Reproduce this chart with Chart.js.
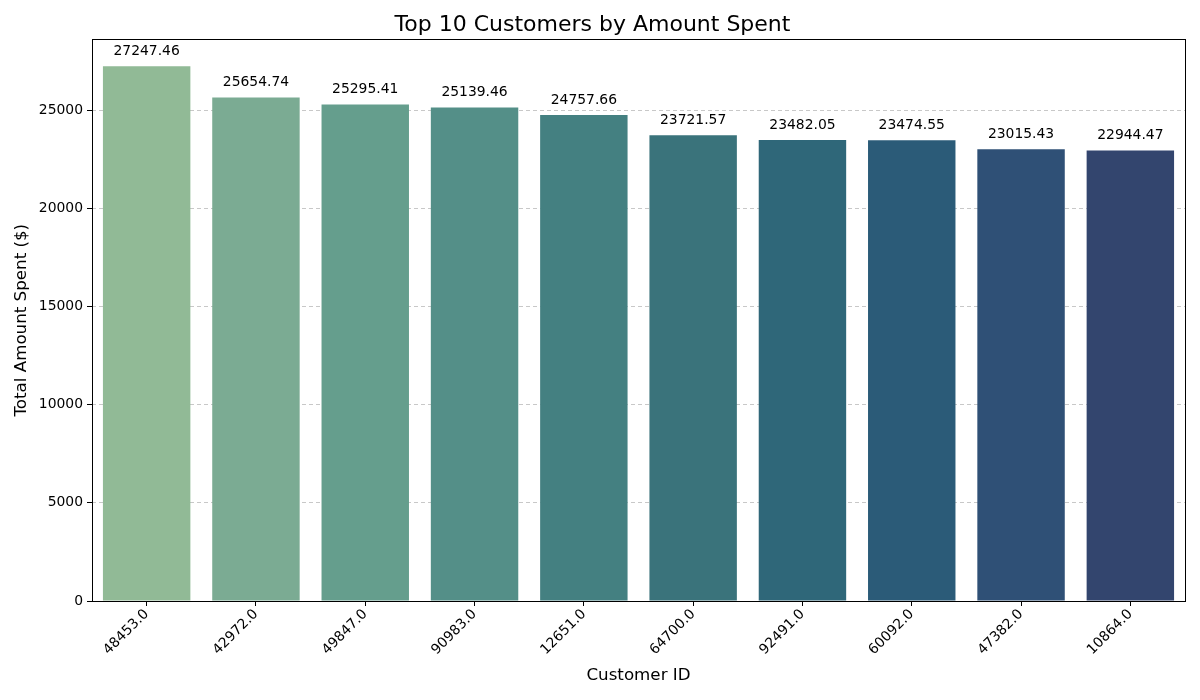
<!DOCTYPE html>
<html>
<head>
<meta charset="utf-8">
<script src="https://cdn.jsdelivr.net/npm/chart.js@4.4.0/dist/chart.umd.min.js"></script>
<style>
  html, body { margin: 0; padding: 0; background: #fff; }
  #wrap { width: 1200px; height: 700px; }
</style>
</head>
<body>
<div id="wrap"><canvas id="chart" width="1200" height="700"></canvas></div>
<script>
// Data
const customerIds = ['48453.0', '42972.0', '49847.0', '90983.0', '12651.0',
                     '64700.0', '92491.0', '60092.0', '47382.0', '10864.0'];
const amountSpent = [27247.46, 25654.74, 25295.41, 25139.46, 24757.66,
                     23721.57, 23482.05, 23474.55, 23015.43, 22944.47];
const yTicks = [0, 5000, 10000, 15000, 20000, 25000];

// crest-like palette, light green to dark blue
const barColors = ['#91ba96', '#7bab93', '#659e8d', '#548f88', '#448081',
                   '#3a737b', '#2f6779', '#2b5b78', '#2f5076', '#33456e'];

const FONT = 'DejaVu Sans, sans-serif';
Chart.defaults.font.family = FONT;
Chart.defaults.color = '#000';

// value labels above the bars
const valueLabels = {
  id: 'valueLabels',
  afterDatasetsDraw(chart) {
    const ctx = chart.ctx;
    const meta = chart.getDatasetMeta(0);
    ctx.save();
    ctx.font = '13.9px ' + FONT;
    ctx.fillStyle = '#000';
    ctx.textAlign = 'center';
    ctx.textBaseline = 'middle';
    meta.data.forEach((bar, i) => {
      ctx.fillText(amountSpent[i].toFixed(2), bar.x, bar.y - 15);
    });
    ctx.restore();
  }
};

// black frame around the plot area
const frame = {
  id: 'frame',
  afterDraw(chart) {
    const a = chart.chartArea;
    const ctx = chart.ctx;
    ctx.save();
    ctx.strokeStyle = '#000';
    ctx.lineWidth = 1;
    ctx.strokeRect(Math.round(a.left) + 0.5, Math.round(a.top) + 0.5,
                   Math.round(a.right - a.left), Math.round(a.bottom - a.top));
    ctx.restore();
  }
};

new Chart(document.getElementById('chart'), {
  type: 'bar',
  data: {
    labels: customerIds,
    datasets: [{
      data: amountSpent,
      backgroundColor: barColors,
      borderWidth: 0,
      categoryPercentage: 1.0,
      barPercentage: 0.8
    }]
  },
  options: {
    responsive: false,
    animation: false,
    devicePixelRatio: 1,
    layout: { padding: { left: 0, right: 15, top: 0, bottom: 0 } },
    plugins: {
      legend: { display: false },
      tooltip: { enabled: false },
      title: {
        display: true,
        text: 'Top 10 Customers by Amount Spent',
        color: '#000',
        font: { size: 22, weight: 'normal' },
        padding: { top: 12, bottom: 1 }
      }
    },
    scales: {
      x: {
        offset: true,
        grid: {
          offset: false,
          drawOnChartArea: false,
          tickColor: '#000',
          tickLength: 5
        },
        border: { display: false },
        ticks: {
          minRotation: 45,
          maxRotation: 45,
          padding: 0,
          color: '#000',
          font: { size: 13.9 }
        },
        title: {
          display: true,
          text: 'Customer ID',
          color: '#000',
          font: { size: 16.7 },
          padding: { top: 4, bottom: 14 }
        },
        afterFit(scale) { scale.height = 99; }
      },
      y: {
        min: 0,
        max: amountSpent[0] * 1.05,
        afterBuildTicks(scale) {
          scale.ticks = yTicks.map(v => ({ value: v }));
        },
        grid: {
          color: 'rgba(176,176,176,0.7)',
          tickColor: '#000',
          tickLength: 5,
          tickBorderDash: []
        },
        border: { display: false, dash: [4, 3] },
        ticks: {
          padding: 4,
          color: '#000',
          font: { size: 13.9 },
          callback: v => String(v)
        },
        title: {
          display: true,
          text: 'Total Amount Spent ($)',
          color: '#000',
          font: { size: 16.7 },
          padding: { top: 12, bottom: 4 }
        },
        afterFit(scale) { scale.width = 92; }
      }
    }
  },
  plugins: [valueLabels, frame]
});
</script>
</body>
</html>
